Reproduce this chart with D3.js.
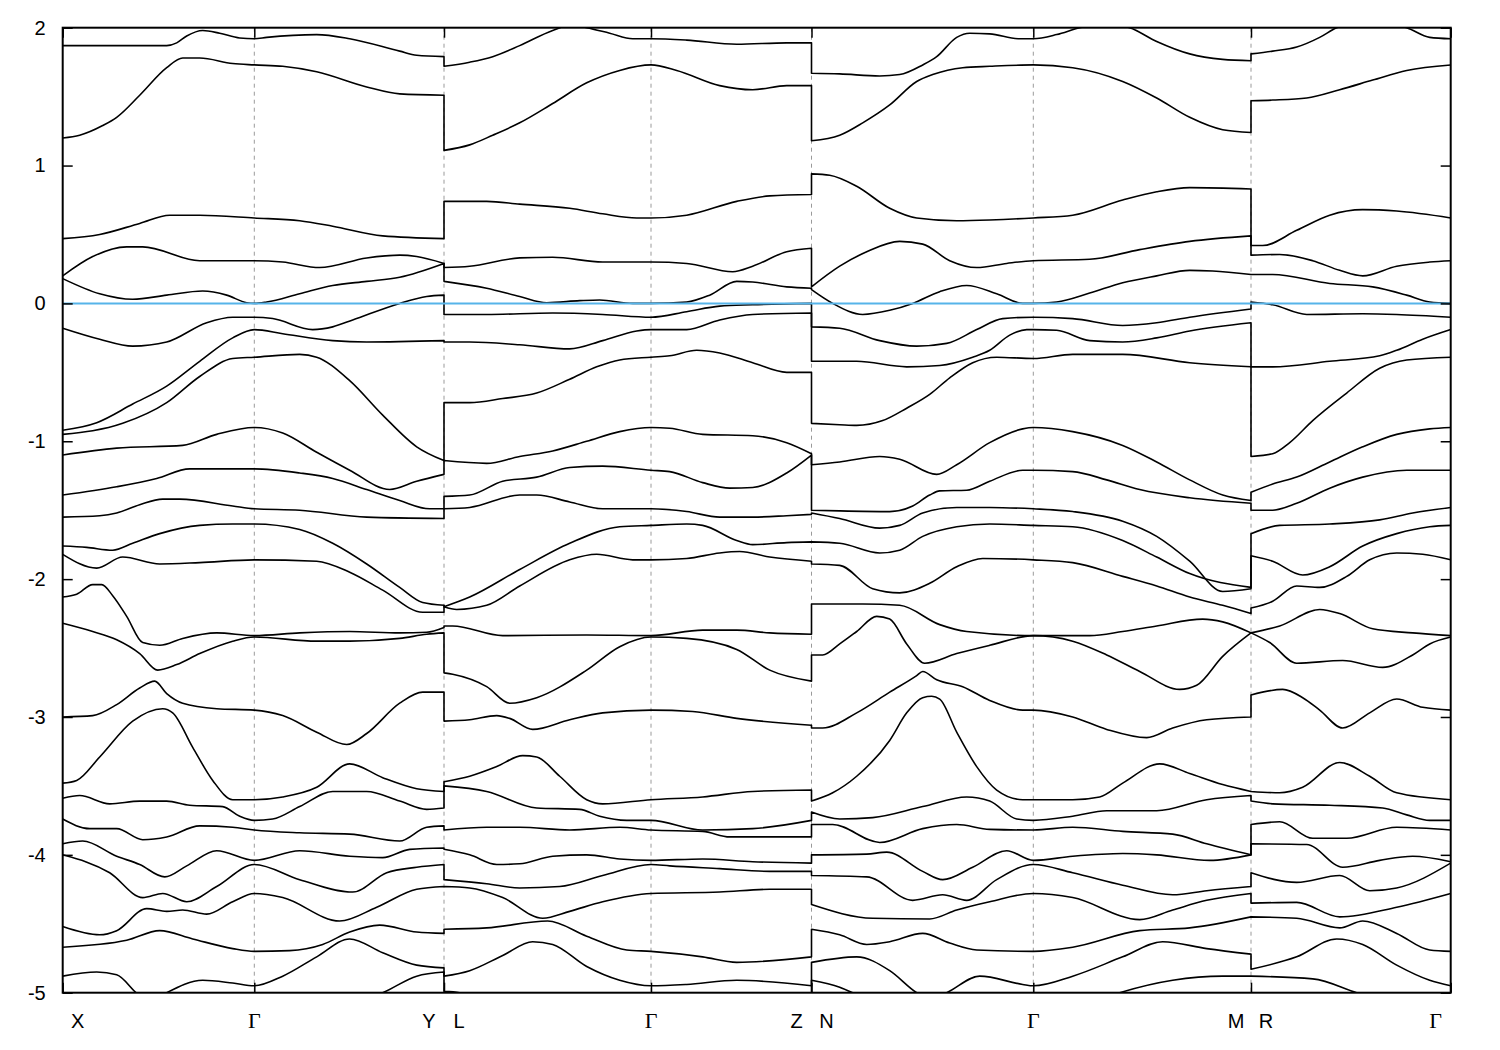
<!DOCTYPE html>
<html><head><meta charset="utf-8">
<script src="https://cdn.jsdelivr.net/npm/d3@7"></script>
<style>body{margin:0;background:#fff}</style>
</head><body>
<svg id="chart" width="1500" height="1050"></svg>
<script>
// k-path tick positions (path distance) and labels
const kTicks = [0, 0.1916, 0.3813, 0.5883, 0.7488, 0.9706, 1.1883, 1.388];
const xLabels = ["X","Γ","Y","L","Γ","Z","N","Γ","M","R","Γ"];
const xLabelK = [0,0.1916,0.3813,0.3813,0.5883,0.7488,0.7488,0.9706,1.1883,1.1883,1.388];
const xLabelSide = [1,0,-1,1,0,-1,1,0,-1,1,-1];
const yTicks = [2,1,0,-1,-2,-3,-4,-5];
const fermiLevel = 0;

// bands: four path segments each, [k, E(eV)]
const bandA = [
 [[0,1.87],[0.104,1.87],[0.114,1.89],[0.124,1.94],[0.140,1.98],[0.157,1.96],[0.177,1.925],[0.1916,1.92],[0.204,1.93],[0.254,1.95],[0.287,1.92],[0.337,1.83],[0.354,1.80],[0.3813,1.79]],
 [[0.3813,1.72],[0.407,1.75],[0.430,1.79],[0.457,1.87],[0.490,1.98],[0.509,2.02],[0.524,2.0],[0.547,1.96],[0.570,1.92],[0.5883,1.92],[0.624,1.91],[0.674,1.88],[0.724,1.89],[0.7488,1.89]],
 [[0.7488,1.67],[0.777,1.665],[0.817,1.65],[0.837,1.66],[0.860,1.73],[0.874,1.79],[0.894,1.93],[0.907,1.96],[0.927,1.955],[0.957,1.92],[0.9706,1.92],[0.994,1.95],[1.017,2.0],[1.042,2.03],[1.067,2.0],[1.094,1.90],[1.127,1.81],[1.160,1.77],[1.1883,1.76]],
 [[1.1883,1.81],[1.210,1.83],[1.234,1.86],[1.257,1.93],[1.274,2.0],[1.307,2.05],[1.344,2.0],[1.367,1.93],[1.388,1.92]]
];
const bandB = [
 [[0,1.20],[0.017,1.22],[0.040,1.29],[0.054,1.35],[0.077,1.51],[0.104,1.71],[0.120,1.78],[0.137,1.78],[0.170,1.74],[0.1916,1.73],[0.220,1.72],[0.254,1.68],[0.304,1.57],[0.337,1.52],[0.3813,1.51]],
 [[0.3813,1.11],[0.407,1.15],[0.430,1.22],[0.457,1.31],[0.490,1.45],[0.524,1.60],[0.557,1.69],[0.5883,1.73],[0.614,1.69],[0.657,1.58],[0.690,1.55],[0.724,1.58],[0.7488,1.58]],
 [[0.7488,1.18],[0.777,1.22],[0.800,1.31],[0.827,1.44],[0.854,1.61],[0.870,1.66],[0.900,1.71],[0.927,1.72],[0.9706,1.73],[1.010,1.71],[1.060,1.61],[1.094,1.49],[1.127,1.35],[1.160,1.26],[1.1883,1.24]],
 [[1.1883,1.47],[1.210,1.475],[1.244,1.49],[1.277,1.55],[1.310,1.62],[1.344,1.69],[1.388,1.73]]
];
const bandC = [
 [[0,0.47],[0.037,0.50],[0.077,0.58],[0.107,0.64],[0.137,0.64],[0.1916,0.62],[0.237,0.60],[0.270,0.56],[0.320,0.49],[0.3813,0.47]],
 [[0.3813,0.74],[0.424,0.74],[0.457,0.72],[0.507,0.69],[0.540,0.65],[0.574,0.62],[0.5883,0.62],[0.624,0.64],[0.674,0.74],[0.707,0.78],[0.7488,0.79]],
 [[0.7488,0.94],[0.767,0.93],[0.794,0.85],[0.827,0.69],[0.854,0.62],[0.894,0.60],[0.927,0.605],[0.9706,0.62],[1.010,0.64],[1.060,0.75],[1.094,0.81],[1.127,0.84],[1.1883,0.83]],
 [[1.1883,0.42],[1.200,0.42],[1.234,0.53],[1.267,0.64],[1.300,0.68],[1.334,0.67],[1.388,0.62]]
];
const bandD = [
 [[0,0.20],[0.030,0.34],[0.064,0.41],[0.080,0.41],[0.137,0.31],[0.1916,0.31],[0.220,0.30],[0.257,0.26],[0.304,0.33],[0.337,0.35],[0.354,0.34],[0.3813,0.29]],
 [[0.3813,0.26],[0.407,0.27],[0.457,0.33],[0.490,0.335],[0.540,0.30],[0.5883,0.30],[0.624,0.29],[0.670,0.23],[0.690,0.27],[0.724,0.375],[0.7488,0.40]],
 [[0.7488,0.12],[0.777,0.27],[0.804,0.375],[0.837,0.45],[0.860,0.43],[0.887,0.31],[0.914,0.26],[0.944,0.29],[0.9706,0.31],[1.027,0.32],[1.077,0.39],[1.127,0.45],[1.1883,0.49]],
 [[1.1883,0.35],[1.217,0.355],[1.250,0.31],[1.277,0.24],[1.300,0.20],[1.334,0.27],[1.367,0.30],[1.388,0.31]]
];
const bandE = [
 [[0,0.18],[0.037,0.07],[0.070,0.03],[0.104,0.06],[0.140,0.09],[0.164,0.06],[0.184,0.005],[0.1916,0.0],[0.204,0.01],[0.237,0.07],[0.270,0.13],[0.304,0.16],[0.337,0.19],[0.3813,0.29]],
 [[0.3813,0.16],[0.424,0.11],[0.457,0.05],[0.484,0.005],[0.517,0.02],[0.537,0.025],[0.570,0.0],[0.5883,0.0],[0.624,0.01],[0.647,0.06],[0.674,0.16],[0.690,0.155],[0.724,0.12],[0.7488,0.11]],
 [[0.7488,0.10],[0.770,0.0],[0.800,-0.08],[0.827,-0.05],[0.850,0.0],[0.877,0.085],[0.904,0.13],[0.934,0.07],[0.960,0.0],[0.9706,0.0],[0.994,0.01],[1.027,0.075],[1.060,0.15],[1.094,0.20],[1.127,0.24],[1.150,0.235],[1.1883,0.21]],
 [[1.1883,0.21],[1.210,0.21],[1.267,0.145],[1.310,0.12],[1.344,0.06],[1.367,0.01],[1.388,0.0]]
];
const bandH = [
 [[0,-0.18],[0.037,-0.26],[0.070,-0.31],[0.104,-0.28],[0.144,-0.14],[0.170,-0.10],[0.1916,-0.10],[0.210,-0.11],[0.250,-0.19],[0.270,-0.17],[0.290,-0.12],[0.337,0.0],[0.364,0.05],[0.3813,0.06]],
 [[0.3813,-0.08],[0.424,-0.08],[0.490,-0.07],[0.540,-0.08],[0.5883,-0.10],[0.624,-0.06],[0.657,-0.02],[0.690,-0.01],[0.7488,0.0]],
 [[0.7488,-0.17],[0.777,-0.18],[0.817,-0.27],[0.854,-0.31],[0.884,-0.29],[0.914,-0.19],[0.940,-0.11],[0.9706,-0.10],[1.010,-0.11],[1.060,-0.16],[1.094,-0.14],[1.127,-0.10],[1.1883,-0.04]],
 [[1.1883,0.01],[1.210,-0.01],[1.244,-0.08],[1.300,-0.075],[1.334,-0.08],[1.388,-0.10]]
];
const bandI = [
 [[0,-0.92],[0.034,-0.865],[0.070,-0.73],[0.104,-0.60],[0.137,-0.42],[0.170,-0.25],[0.1916,-0.19],[0.220,-0.22],[0.270,-0.27],[0.304,-0.28],[0.3813,-0.27]],
 [[0.3813,-0.28],[0.407,-0.28],[0.457,-0.30],[0.507,-0.33],[0.540,-0.27],[0.574,-0.20],[0.5883,-0.19],[0.624,-0.19],[0.657,-0.12],[0.690,-0.08],[0.7488,-0.07]],
 [[0.7488,-0.42],[0.794,-0.42],[0.844,-0.46],[0.877,-0.45],[0.910,-0.39],[0.927,-0.34],[0.947,-0.23],[0.964,-0.19],[0.9706,-0.19],[0.994,-0.195],[1.027,-0.27],[1.060,-0.28],[1.094,-0.25],[1.127,-0.20],[1.1883,-0.14]],
 [[1.1883,-0.46],[1.210,-0.46],[1.267,-0.42],[1.317,-0.38],[1.334,-0.34],[1.360,-0.26],[1.388,-0.19]]
];
const bandJ = [
 [[0,-0.95],[0.060,-0.87],[0.104,-0.72],[0.137,-0.53],[0.170,-0.40],[0.1916,-0.39],[0.237,-0.37],[0.254,-0.39],[0.287,-0.56],[0.320,-0.81],[0.354,-1.04],[0.3813,-1.14]],
 [[0.3813,-0.72],[0.407,-0.72],[0.440,-0.69],[0.474,-0.65],[0.507,-0.55],[0.534,-0.46],[0.557,-0.41],[0.5883,-0.39],[0.607,-0.38],[0.634,-0.34],[0.657,-0.36],[0.690,-0.43],[0.724,-0.50],[0.7488,-0.50]],
 [[0.7488,-0.87],[0.777,-0.88],[0.794,-0.885],[0.820,-0.85],[0.844,-0.76],[0.867,-0.66],[0.887,-0.54],[0.910,-0.43],[0.934,-0.39],[0.9706,-0.40],[1.010,-0.37],[1.060,-0.37],[1.127,-0.43],[1.1883,-0.46]],
 [[1.1883,-1.11],[1.210,-1.09],[1.227,-1.01],[1.250,-0.85],[1.284,-0.65],[1.317,-0.47],[1.344,-0.41],[1.388,-0.39]]
];
const bandK = [
 [[0,-1.10],[0.054,-1.05],[0.120,-1.03],[0.154,-0.95],[0.1916,-0.90],[0.220,-0.94],[0.254,-1.08],[0.287,-1.21],[0.327,-1.35],[0.354,-1.29],[0.3813,-1.24]],
 [[0.3813,-1.14],[0.424,-1.16],[0.457,-1.11],[0.490,-1.07],[0.524,-1.00],[0.557,-0.93],[0.5883,-0.90],[0.607,-0.905],[0.640,-0.95],[0.690,-0.96],[0.724,-1.01],[0.7488,-1.09]],
 [[0.7488,-1.17],[0.777,-1.15],[0.817,-1.11],[0.837,-1.13],[0.874,-1.24],[0.894,-1.17],[0.927,-1.01],[0.960,-0.91],[0.9706,-0.90],[1.010,-0.93],[1.060,-1.03],[1.094,-1.15],[1.127,-1.28],[1.160,-1.39],[1.1883,-1.43]],
 [[1.1883,-1.37],[1.210,-1.31],[1.234,-1.26],[1.267,-1.15],[1.300,-1.04],[1.334,-0.95],[1.367,-0.91],[1.388,-0.90]]
];
const bandL = [
 [[0,-1.39],[0.054,-1.33],[0.094,-1.27],[0.127,-1.20],[0.1916,-1.20],[0.237,-1.23],[0.270,-1.27],[0.304,-1.35],[0.337,-1.43],[0.367,-1.49],[0.3813,-1.49]],
 [[0.3813,-1.40],[0.407,-1.39],[0.440,-1.29],[0.474,-1.26],[0.507,-1.19],[0.540,-1.18],[0.5883,-1.21],[0.607,-1.22],[0.640,-1.30],[0.667,-1.34],[0.690,-1.335],[0.724,-1.23],[0.7488,-1.10]],
 [[0.7488,-1.50],[0.777,-1.505],[0.827,-1.51],[0.850,-1.47],[0.867,-1.39],[0.877,-1.36],[0.904,-1.355],[0.927,-1.29],[0.960,-1.21],[0.9706,-1.21],[1.010,-1.22],[1.044,-1.28],[1.077,-1.35],[1.127,-1.41],[1.1883,-1.45]],
 [[1.1883,-1.50],[1.210,-1.50],[1.234,-1.45],[1.267,-1.34],[1.300,-1.26],[1.344,-1.21],[1.388,-1.21]]
];
const bandM = [
 [[0,-1.55],[0.037,-1.54],[0.054,-1.52],[0.077,-1.46],[0.100,-1.42],[0.117,-1.42],[0.170,-1.47],[0.1916,-1.49],[0.237,-1.50],[0.304,-1.55],[0.3813,-1.56]],
 [[0.3813,-1.49],[0.407,-1.48],[0.457,-1.39],[0.474,-1.39],[0.507,-1.44],[0.540,-1.49],[0.5883,-1.49],[0.624,-1.51],[0.657,-1.55],[0.690,-1.55],[0.724,-1.54],[0.7488,-1.53]],
 [[0.7488,-1.52],[0.777,-1.56],[0.817,-1.63],[0.837,-1.61],[0.860,-1.52],[0.894,-1.48],[0.927,-1.48],[0.9706,-1.49],[1.010,-1.51],[1.060,-1.58],[1.094,-1.69],[1.127,-1.87],[1.160,-2.09],[1.1883,-2.07]],
 [[1.1883,-1.67],[1.217,-1.61],[1.267,-1.60],[1.317,-1.57],[1.350,-1.52],[1.388,-1.48]]
];
const bandN = [
 [[0,-1.76],[0.024,-1.77],[0.050,-1.79],[0.070,-1.74],[0.097,-1.67],[0.137,-1.61],[0.170,-1.60],[0.1916,-1.60],[0.237,-1.64],[0.270,-1.74],[0.304,-1.89],[0.337,-2.06],[0.360,-2.17],[0.3813,-2.19]],
 [[0.3813,-2.20],[0.407,-2.13],[0.457,-1.93],[0.507,-1.74],[0.557,-1.62],[0.5883,-1.61],[0.624,-1.60],[0.640,-1.61],[0.674,-1.72],[0.690,-1.75],[0.724,-1.735],[0.7488,-1.73]],
 [[0.7488,-1.73],[0.777,-1.74],[0.817,-1.81],[0.837,-1.79],[0.860,-1.69],[0.894,-1.62],[0.927,-1.60],[0.9706,-1.61],[1.010,-1.62],[1.060,-1.72],[1.094,-1.84],[1.127,-1.96],[1.1883,-2.06]],
 [[1.1883,-1.83],[1.210,-1.87],[1.240,-1.97],[1.267,-1.91],[1.300,-1.76],[1.334,-1.67],[1.367,-1.62],[1.388,-1.61]]
];
const bandO = [
 [[0,-1.82],[0.034,-1.92],[0.060,-1.84],[0.097,-1.89],[0.137,-1.88],[0.1916,-1.86],[0.254,-1.87],[0.287,-1.95],[0.320,-2.08],[0.360,-2.24],[0.3813,-2.24]],
 [[0.3813,-2.20],[0.394,-2.22],[0.424,-2.19],[0.457,-2.05],[0.507,-1.86],[0.534,-1.82],[0.570,-1.86],[0.5883,-1.86],[0.624,-1.85],[0.657,-1.81],[0.677,-1.80],[0.707,-1.84],[0.7488,-1.87]],
 [[0.7488,-1.89],[0.777,-1.90],[0.810,-2.07],[0.837,-2.10],[0.867,-2.03],[0.894,-1.91],[0.920,-1.85],[0.9706,-1.86],[1.010,-1.88],[1.060,-1.98],[1.094,-2.05],[1.127,-2.13],[1.160,-2.19],[1.1883,-2.25]],
 [[1.1883,-2.21],[1.210,-2.16],[1.234,-2.05],[1.257,-2.06],[1.284,-1.98],[1.307,-1.86],[1.334,-1.81],[1.360,-1.82],[1.388,-1.86]]
];
const bandP = [
 [[0,-2.13],[0.014,-2.11],[0.030,-2.04],[0.039,-2.04],[0.050,-2.12],[0.064,-2.27],[0.080,-2.46],[0.097,-2.48],[0.120,-2.43],[0.154,-2.39],[0.1916,-2.41],[0.237,-2.39],[0.287,-2.38],[0.337,-2.39],[0.364,-2.385],[0.3813,-2.35]],
 [[0.3813,-2.34],[0.390,-2.34],[0.440,-2.41],[0.524,-2.405],[0.5883,-2.41],[0.640,-2.37],[0.674,-2.37],[0.707,-2.39],[0.7488,-2.40]],
 [[0.7488,-2.18],[0.800,-2.18],[0.837,-2.19],[0.877,-2.33],[0.904,-2.38],[0.9706,-2.41],[1.027,-2.41],[1.060,-2.38],[1.094,-2.34],[1.140,-2.29],[1.160,-2.31],[1.1883,-2.39]],
 [[1.1883,-2.39],[1.217,-2.34],[1.257,-2.22],[1.277,-2.25],[1.310,-2.36],[1.350,-2.39],[1.388,-2.41]]
];
const bandQ = [
 [[0,-2.32],[0.030,-2.38],[0.054,-2.44],[0.077,-2.54],[0.095,-2.66],[0.114,-2.62],[0.137,-2.54],[0.170,-2.45],[0.1916,-2.42],[0.254,-2.45],[0.287,-2.45],[0.337,-2.43],[0.364,-2.40],[0.3813,-2.39]],
 [[0.3813,-2.68],[0.390,-2.69],[0.424,-2.78],[0.447,-2.90],[0.474,-2.86],[0.524,-2.66],[0.557,-2.49],[0.5883,-2.42],[0.624,-2.43],[0.674,-2.51],[0.707,-2.66],[0.7488,-2.74]],
 [[0.7488,-2.55],[0.760,-2.55],[0.777,-2.47],[0.794,-2.38],[0.814,-2.27],[0.827,-2.29],[0.844,-2.47],[0.862,-2.61],[0.894,-2.54],[0.927,-2.48],[0.9706,-2.41],[1.010,-2.45],[1.044,-2.55],[1.077,-2.67],[1.117,-2.80],[1.134,-2.77],[1.160,-2.56],[1.1883,-2.39]],
 [[1.1883,-2.39],[1.207,-2.46],[1.234,-2.61],[1.280,-2.59],[1.320,-2.64],[1.350,-2.55],[1.367,-2.47],[1.388,-2.42]]
];
const bandR = [
 [[0,-3.00],[0.030,-2.99],[0.054,-2.91],[0.077,-2.79],[0.092,-2.74],[0.104,-2.83],[0.120,-2.90],[0.154,-2.94],[0.1916,-2.95],[0.220,-2.99],[0.254,-3.11],[0.284,-3.20],[0.304,-3.12],[0.337,-2.90],[0.360,-2.82],[0.3813,-2.82]],
 [[0.3813,-3.03],[0.407,-3.02],[0.434,-2.99],[0.447,-3.01],[0.470,-3.09],[0.507,-3.02],[0.540,-2.97],[0.5883,-2.95],[0.630,-2.96],[0.674,-3.01],[0.7488,-3.06]],
 [[0.7488,-3.08],[0.760,-3.08],[0.794,-2.97],[0.827,-2.82],[0.854,-2.70],[0.860,-2.67],[0.874,-2.73],[0.900,-2.78],[0.927,-2.88],[0.960,-2.95],[0.9706,-2.95],[1.010,-3.00],[1.044,-3.09],[1.084,-3.15],[1.110,-3.08],[1.144,-3.02],[1.1883,-3.00]],
 [[1.1883,-2.84],[1.220,-2.80],[1.240,-2.86],[1.257,-2.95],[1.280,-3.08],[1.307,-2.97],[1.334,-2.87],[1.360,-2.93],[1.388,-2.95]]
];
const bandS = [
 [[0,-3.48],[0.014,-3.46],[0.037,-3.29],[0.070,-3.03],[0.100,-2.94],[0.110,-2.97],[0.130,-3.22],[0.150,-3.46],[0.170,-3.60],[0.1916,-3.60],[0.220,-3.58],[0.254,-3.51],[0.287,-3.34],[0.320,-3.44],[0.354,-3.52],[0.3813,-3.54]],
 [[0.3813,-3.47],[0.407,-3.43],[0.434,-3.36],[0.460,-3.28],[0.474,-3.29],[0.497,-3.43],[0.524,-3.60],[0.540,-3.63],[0.5883,-3.60],[0.640,-3.58],[0.690,-3.54],[0.7488,-3.53]],
 [[0.7488,-3.61],[0.770,-3.55],[0.794,-3.43],[0.827,-3.17],[0.844,-2.97],[0.860,-2.86],[0.869,-2.85],[0.877,-2.87],[0.894,-3.11],[0.914,-3.36],[0.934,-3.53],[0.960,-3.60],[0.9706,-3.60],[1.010,-3.60],[1.037,-3.58],[1.060,-3.48],[1.097,-3.34],[1.127,-3.41],[1.160,-3.49],[1.1883,-3.54]],
 [[1.1883,-3.54],[1.217,-3.55],[1.240,-3.51],[1.277,-3.33],[1.307,-3.43],[1.334,-3.55],[1.388,-3.60]]
];
const bandT = [
 [[0,-3.59],[0.017,-3.57],[0.047,-3.63],[0.077,-3.61],[0.104,-3.61],[0.127,-3.64],[0.160,-3.65],[0.177,-3.72],[0.1916,-3.75],[0.210,-3.74],[0.237,-3.65],[0.270,-3.54],[0.304,-3.54],[0.337,-3.61],[0.364,-3.67],[0.3813,-3.66]],
 [[0.3813,-3.50],[0.424,-3.54],[0.474,-3.66],[0.517,-3.67],[0.537,-3.72],[0.564,-3.75],[0.5883,-3.75],[0.640,-3.82],[0.690,-3.81],[0.7488,-3.75]],
 [[0.7488,-3.69],[0.777,-3.74],[0.810,-3.73],[0.860,-3.65],[0.904,-3.58],[0.927,-3.61],[0.954,-3.74],[0.9706,-3.75],[1.010,-3.72],[1.044,-3.68],[1.094,-3.68],[1.144,-3.60],[1.1883,-3.57]],
 [[1.1883,-3.61],[1.210,-3.63],[1.267,-3.64],[1.320,-3.66],[1.344,-3.71],[1.367,-3.75],[1.388,-3.75]]
];
const bandU = [
 [[0,-3.74],[0.027,-3.81],[0.054,-3.81],[0.080,-3.89],[0.104,-3.87],[0.137,-3.79],[0.170,-3.80],[0.1916,-3.82],[0.237,-3.84],[0.287,-3.85],[0.337,-3.90],[0.364,-3.80],[0.3813,-3.79]],
 [[0.3813,-3.82],[0.424,-3.80],[0.457,-3.80],[0.507,-3.82],[0.557,-3.80],[0.5883,-3.82],[0.640,-3.83],[0.667,-3.87],[0.707,-3.87],[0.7488,-3.87]],
 [[0.7488,-3.78],[0.770,-3.78],[0.817,-3.91],[0.860,-3.81],[0.894,-3.78],[0.927,-3.815],[0.9706,-3.82],[1.010,-3.80],[1.060,-3.83],[1.110,-3.85],[1.144,-3.92],[1.1883,-4.00]],
 [[1.1883,-3.78],[1.217,-3.76],[1.250,-3.88],[1.284,-3.88],[1.334,-3.80],[1.388,-3.82]]
];
const bandV = [
 [[0,-3.92],[0.020,-3.90],[0.054,-4.01],[0.077,-4.07],[0.102,-4.16],[0.124,-4.08],[0.154,-3.97],[0.1916,-4.04],[0.237,-3.97],[0.287,-4.01],[0.320,-4.02],[0.347,-3.96],[0.3813,-3.95]],
 [[0.3813,-3.96],[0.407,-4.00],[0.434,-4.07],[0.457,-4.065],[0.490,-4.01],[0.524,-4.00],[0.557,-4.03],[0.5883,-4.04],[0.640,-4.03],[0.690,-4.05],[0.7488,-4.06]],
 [[0.7488,-4.00],[0.804,-3.995],[0.824,-3.98],[0.860,-4.12],[0.880,-4.18],[0.910,-4.09],[0.944,-3.97],[0.9706,-4.04],[1.010,-4.01],[1.060,-3.99],[1.094,-4.00],[1.147,-4.04],[1.1883,-4.00]],
 [[1.1883,-3.92],[1.244,-3.925],[1.280,-4.09],[1.317,-4.04],[1.350,-4.01],[1.388,-4.05]]
];
const bandW = [
 [[0,-4.00],[0.047,-4.13],[0.080,-4.31],[0.100,-4.28],[0.124,-4.34],[0.154,-4.23],[0.1916,-4.07],[0.237,-4.18],[0.290,-4.27],[0.324,-4.13],[0.354,-4.09],[0.3813,-4.07]],
 [[0.3813,-4.18],[0.424,-4.21],[0.457,-4.24],[0.497,-4.23],[0.540,-4.15],[0.5883,-4.07],[0.607,-4.08],[0.657,-4.10],[0.707,-4.12],[0.7488,-4.12]],
 [[0.7488,-4.15],[0.804,-4.16],[0.850,-4.33],[0.880,-4.29],[0.904,-4.33],[0.934,-4.18],[0.9706,-4.07],[1.010,-4.13],[1.060,-4.22],[1.110,-4.29],[1.144,-4.26],[1.1883,-4.23]],
 [[1.1883,-4.13],[1.234,-4.20],[1.277,-4.15],[1.307,-4.26],[1.334,-4.24],[1.388,-4.06]]
];
const bandX1 = [
 [[0,-4.52],[0.037,-4.58],[0.054,-4.55],[0.084,-4.39],[0.104,-4.41],[0.120,-4.40],[0.144,-4.43],[0.170,-4.34],[0.1916,-4.28],[0.220,-4.31],[0.277,-4.48],[0.314,-4.38],[0.354,-4.25],[0.3813,-4.23]],
 [[0.3813,-4.23],[0.407,-4.24],[0.440,-4.31],[0.480,-4.46],[0.507,-4.41],[0.540,-4.34],[0.5883,-4.28],[0.657,-4.27],[0.707,-4.25],[0.7488,-4.25]],
 [[0.7488,-4.36],[0.810,-4.46],[0.867,-4.465],[0.894,-4.40],[0.927,-4.34],[0.9706,-4.28],[1.010,-4.31],[1.077,-4.47],[1.110,-4.40],[1.144,-4.33],[1.1883,-4.28]],
 [[1.1883,-4.35],[1.234,-4.345],[1.277,-4.45],[1.334,-4.38],[1.388,-4.28]]
];
const bandY1 = [
 [[0,-4.67],[0.064,-4.62],[0.097,-4.55],[0.130,-4.61],[0.170,-4.68],[0.1916,-4.70],[0.227,-4.695],[0.260,-4.65],[0.287,-4.56],[0.317,-4.51],[0.354,-4.56],[0.3813,-4.57]],
 [[0.3813,-4.54],[0.424,-4.53],[0.485,-4.48],[0.524,-4.59],[0.564,-4.69],[0.5883,-4.70],[0.640,-4.74],[0.674,-4.78],[0.7488,-4.74]],
 [[0.7488,-4.54],[0.777,-4.58],[0.804,-4.65],[0.827,-4.63],[0.860,-4.57],[0.887,-4.64],[0.914,-4.69],[0.9706,-4.70],[1.010,-4.67],[1.077,-4.55],[1.127,-4.53],[1.1883,-4.45]],
 [[1.1883,-4.45],[1.234,-4.46],[1.277,-4.53],[1.300,-4.48],[1.334,-4.57],[1.367,-4.69],[1.388,-4.70]]
];
const bandZ1 = [
 [[0,-4.88],[0.034,-4.85],[0.054,-4.87],[0.077,-5.02],[0.092,-5.05],[0.104,-5.0],[0.140,-4.91],[0.170,-4.93],[0.1916,-4.95],[0.220,-4.88],[0.254,-4.74],[0.287,-4.61],[0.320,-4.71],[0.354,-4.80],[0.3813,-4.82]],
 [[0.3813,-4.88],[0.407,-4.84],[0.440,-4.73],[0.470,-4.63],[0.490,-4.65],[0.524,-4.81],[0.557,-4.91],[0.5883,-4.95],[0.624,-4.94],[0.674,-4.91],[0.7488,-4.95]],
 [[0.7488,-4.78],[0.794,-4.74],[0.827,-4.84],[0.854,-5.0],[0.867,-5.05],[0.884,-5.0],[0.917,-4.88],[0.960,-4.94],[0.9706,-4.95],[1.010,-4.88],[1.060,-4.74],[1.100,-4.63],[1.144,-4.68],[1.1883,-4.72]],
 [[1.1883,-4.83],[1.234,-4.74],[1.274,-4.61],[1.300,-4.65],[1.334,-4.80],[1.367,-4.91],[1.388,-4.95]]
];
const bandZ2 = [
 [[0,-5.15],[0.237,-5.15],[0.320,-5.0],[0.354,-4.88],[0.3813,-4.85]],
 [[0.3813,-4.99],[0.397,-5.0],[0.437,-5.1],[0.7488,-5.1]],
 [[0.7488,-4.91],[0.777,-4.96],[0.790,-5.0],[0.817,-5.1],[1.017,-5.1],[1.057,-5.0],[1.110,-4.91],[1.160,-4.88],[1.1883,-4.88]],
 [[1.1883,-4.88],[1.250,-4.90],[1.294,-5.0],[1.337,-5.1],[1.388,-5.1]]
];
const bandList = [bandA,bandB,bandC,bandD,bandE,bandH,bandI,bandJ,bandK,bandL,bandM,bandN,bandO,bandP,bandQ,bandR,bandS,bandT,bandU,bandV,bandW,bandX1,bandY1,bandZ1,bandZ2];

// ---------- drawing ----------
const x = d3.scaleLinear().domain([kTicks[0], kTicks[kTicks.length-1]]).range([62.7, 1450.7]);
const y = d3.scaleLinear().domain([-5, 2]).range([992.7, 27.7]);
const svg = d3.select("#chart");
svg.append("rect").attr("width",1500).attr("height",1050).attr("fill","#fff");
svg.append("defs").append("clipPath").attr("id","plotclip").append("rect")
  .attr("x",x.range()[0]).attr("y",y(2)).attr("width",x.range()[1]-x.range()[0]).attr("height",y(-5)-y(2));

// dashed vertical lines at high-symmetry points
svg.append("g").selectAll("line").data(kTicks.slice(1,-1)).join("line")
  .attr("x1",d=>x(d)).attr("x2",d=>x(d)).attr("y1",y(2)).attr("y2",y(-5))
  .attr("stroke","#9a9a9a").attr("stroke-width",1).attr("stroke-dasharray","4,4");

const line = d3.line().x(d=>x(d[0])).y(d=>y(d[1])).curve(d3.curveMonotoneX);
const bandPath = segs => segs.map((s,i)=>{const d=line(s); return i ? "L"+d.slice(1) : d;}).join("");

const plot = svg.append("g").attr("clip-path","url(#plotclip)");
plot.selectAll("path.band").data(bandList).join("path").attr("class","band")
  .attr("d",bandPath).attr("fill","none").attr("stroke","#000").attr("stroke-width",1.6)
  .attr("stroke-linejoin","round");

plot.append("line").attr("x1",x.range()[0]).attr("x2",x.range()[1])
  .attr("y1",y(fermiLevel)).attr("y2",y(fermiLevel))
  .attr("stroke","#56b4e9").attr("stroke-width",2);

// axes
const styleAxis = g => { g.select(".domain").remove(); g.selectAll(".tick line").attr("stroke","#000").attr("stroke-width",1.5); };
svg.append("g").attr("transform",`translate(${x.range()[0]},0)`)
  .call(d3.axisLeft(y).tickValues(yTicks).tickSize(-10).tickSizeOuter(0).tickPadding(17).tickFormat(d=>String(d)))
  .call(styleAxis)
  .selectAll("text").attr("font-family","'Liberation Sans', Arial, sans-serif").attr("font-size",20).attr("fill","#000");
svg.append("g").attr("transform",`translate(${x.range()[1]},0)`)
  .call(d3.axisRight(y).tickValues(yTicks).tickSize(-10).tickSizeOuter(0).tickFormat(""))
  .call(styleAxis);
svg.append("g").attr("transform",`translate(0,${y(-5)})`)
  .call(d3.axisBottom(x).tickValues(kTicks).tickSize(-10).tickSizeOuter(0).tickFormat(""))
  .call(styleAxis);
svg.append("g").attr("transform",`translate(0,${y(2)})`)
  .call(d3.axisTop(x).tickValues(kTicks).tickSize(-10).tickSizeOuter(0).tickFormat(""))
  .call(styleAxis);

// k-point labels
svg.append("g").selectAll("text").data(xLabels).join("text")
  .attr("x",(d,i)=>x(xLabelK[i]) + xLabelSide[i]*15)
  .attr("y",1028)
  .attr("text-anchor","middle")
  .attr("font-family",d=> d==="Γ" ? "'Liberation Serif','Times New Roman',serif" : "'Liberation Sans', Arial, sans-serif")
  .attr("font-size",d=> d==="Γ" ? 22 : 20)
  .attr("fill","#000")
  .text(d=>d);

// frame
svg.append("rect").attr("x",x.range()[0]).attr("y",y(2))
  .attr("width",x.range()[1]-x.range()[0]).attr("height",y(-5)-y(2))
  .attr("fill","none").attr("stroke","#000").attr("stroke-width",2);
</script>
</body></html>
